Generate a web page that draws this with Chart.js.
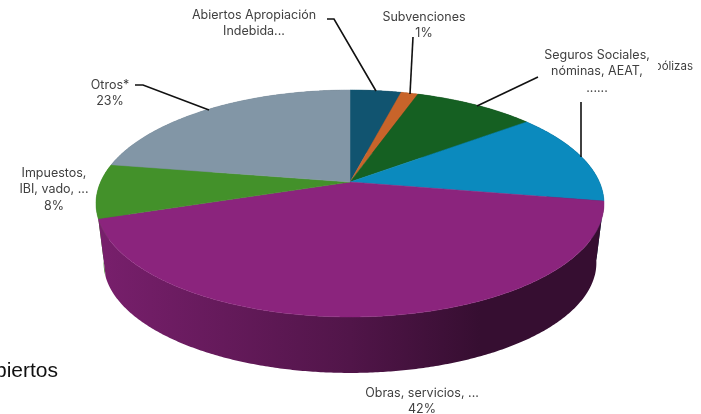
<!DOCTYPE html>
<html>
<head>
<meta charset="utf-8">
<style>
html, body { margin: 0; padding: 0; background: #fff; overflow: hidden; }
</style>
<script src="https://cdn.jsdelivr.net/npm/chart.js@4/dist/chart.umd.min.js"></script>
</head>
<body>
<canvas id="chart" width="701" height="414"></canvas>
<script>
const categories = ['Abiertos Apropiación Indebida', 'Subvenciones', 'Pólizas', 'Seguros Sociales, nóminas, AEAT', 'Obras, servicios', 'Impuestos, IBI, vado', 'Otros*'];
const values = [3.9, 1.3, 9.3, 13.2, 42.2, 7.7, 22.4];
const sliceColors = ['#115470', '#C8642A', '#156022', '#0B8ABE', '#8B247D', '#43912A', '#8296A6'];

// text as it is printed on the picture
const abiertosLines = ['Abiertos Apropiación', 'Indebida...'];
const subvencionesLines = ['Subvenciones', '1%'];
const segurosLines = ['Seguros Sociales,', 'nóminas, AEAT,', '......'];
const obrasLines = ['Obras, servicios, ...', '42%'];
const impuestosLines = ['Impuestos,', 'IBI, vado, ...', '8%'];
const otrosLines = ['Otros*', '23%'];

// perspective of the disc, measured on the picture
const TILT = 0.1894;
const SQUASH = 0.4387;
const BASE_SCALE = 0.97;
const BASE_DROP = 60;
const STEP = Math.PI / 360;

function rimPoint(el, angle, scale, drop) {
	const theta = angle + Math.PI / 2;
	const u = Math.sin(theta);
	const v = Math.cos(theta);
	const w = 1 + TILT * v;
	return [
		el.x + scale * el.outerRadius * u / w,
		el.y + drop - scale * el.outerRadius * SQUASH * v / w
	];
}

function traceRim(ctx, el, from, to, scale, drop) {
	const dir = to > from ? 1 : -1;
	for (let a = from; (a - to) * dir < 0; a += STEP * dir) {
		ctx.lineTo(...rimPoint(el, a, scale, drop));
	}
	ctx.lineTo(...rimPoint(el, to, scale, drop));
}

function wallGradient(ctx, hex) {
	const r = parseInt(hex.slice(1, 3), 16);
	const g = parseInt(hex.slice(3, 5), 16);
	const b = parseInt(hex.slice(5, 7), 16);
	const shade = f => `rgb(${r * f},${g * f},${b * f})`;
	const grad = ctx.createLinearGradient(100, 0, 600, 0);
	grad.addColorStop(0, shade(0.86));
	grad.addColorStop(0.5, shade(0.58));
	grad.addColorStop(0.76, shade(0.39));
	grad.addColorStop(1, shade(0.39));
	return grad;
}

const pie3d = {
	id: 'pie3d',
	beforeDatasetDraw(chart, args) {
		const ctx = chart.ctx;
		const arcs = args.meta.data;
		const colors = chart.data.datasets[0].backgroundColor;
		const order = arcs.map((el, i) => i).sort((a, b) => {
			const front = el => Math.abs((el.startAngle + el.endAngle) / 2 - Math.PI / 2);
			return front(arcs[b]) - front(arcs[a]);
		});
		ctx.save();
		order.forEach(i => {
			const el = arcs[i];
			ctx.beginPath();
			traceRim(ctx, el, el.startAngle, el.endAngle, 1, 0);
			traceRim(ctx, el, el.endAngle, el.startAngle, BASE_SCALE, BASE_DROP);
			ctx.closePath();
			ctx.fillStyle = wallGradient(ctx, colors[i]);
			ctx.fill();
		});
		arcs.forEach((el, i) => {
			ctx.beginPath();
			ctx.moveTo(el.x, el.y);
			traceRim(ctx, el, el.startAngle, el.endAngle, 1, 0);
			ctx.closePath();
			ctx.fillStyle = colors[i];
			ctx.strokeStyle = colors[i];
			ctx.lineWidth = 0.5;
			ctx.fill();
			ctx.stroke();
		});
		ctx.restore();
		return false;
	},
	afterDraw(chart) {
		const ctx = chart.ctx;
		const leader = pts => {
			ctx.beginPath();
			pts.forEach((p, i) => i ? ctx.lineTo(p[0], p[1]) : ctx.moveTo(p[0], p[1]));
			ctx.stroke();
		};
		const block = (lines, x, y) => lines.forEach((t, i) => ctx.fillText(t, x, y + i * 16.5));

		ctx.save();
		ctx.strokeStyle = '#111';
		ctx.lineWidth = 1.6;
		leader([[327, 19], [334, 19], [376, 91]]);
		leader([[413, 37], [410, 94]]);
		leader([[538, 77], [477, 106]]);
		leader([[581, 102], [581, 157]]);
		leader([[135, 85], [143, 85], [209, 110]]);

		ctx.fillStyle = '#404040';
		ctx.textBaseline = 'middle';

		// the "Pólizas" label sits behind the white box of the next one
		ctx.textAlign = 'right';
		ctx.font = '11.5px Inter';
		ctx.fillText('pólizas', 693, 67);
		ctx.fillStyle = '#fff';
		ctx.fillRect(540, 44, 118, 52);
		ctx.fillStyle = '#404040';
		ctx.textAlign = 'center';
		ctx.font = '12.5px Inter';

		block(abiertosLines, 254, 15);
		block(subvencionesLines, 424, 17);
		block(segurosLines, 597, 55);
		block(obrasLines, 422, 393);
		block(impuestosLines, 54, 173);
		block(otrosLines, 110, 85);

		ctx.font = '21px "Liberation Sans"';
		ctx.fillStyle = '#111';
		ctx.textAlign = 'right';
		ctx.fillText('Abiertos', 58, 371);
		ctx.restore();
	}
};

new Chart(document.getElementById('chart'), {
	type: 'pie',
	data: {
		labels: categories,
		datasets: [{ data: values, backgroundColor: sliceColors, borderWidth: 0 }]
	},
	options: {
		responsive: false,
		animation: false,
		radius: 249.4,
		layout: { padding: { bottom: 50, right: 1 } },
		plugins: {
			legend: { display: false },
			tooltip: { enabled: false }
		}
	},
	plugins: [pie3d]
});
</script>
</body>
</html>
